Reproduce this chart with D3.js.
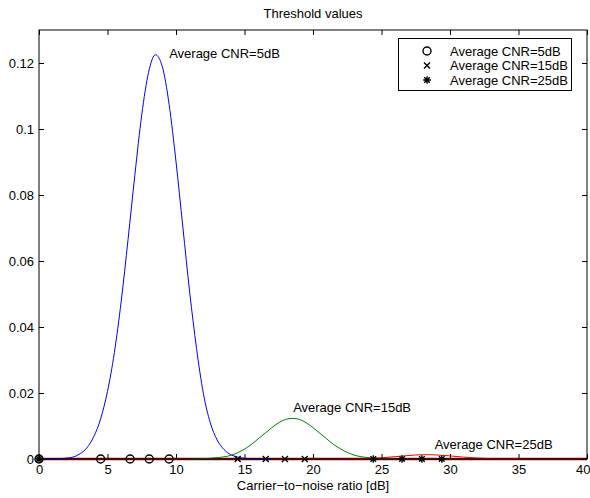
<!DOCTYPE html>
<html>
<head>
<meta charset="utf-8">
<script src="https://cdn.jsdelivr.net/npm/d3@7"></script>
<style>
  body { margin: 0; background: #fff; }
  text { font-family: "Liberation Sans", Arial, sans-serif; }
</style>
</head>
<body>
<div id="chart"></div>
<script>
// curve samples (x in dB, y density)
const blueX = [0, 1, 2, 2.5, 3, 3.5, 4, 4.5, 5, 5.5, 6, 6.5, 7, 7.5, 8, 8.5, 9, 9.5, 10, 10.5, 11, 11.5, 12, 12.5, 13, 13.5, 14, 14.5, 15, 16, 17];
const blueY = [0, 0.00003, 0.00025, 0.0006, 0.0016, 0.0034, 0.0068, 0.0122, 0.0205, 0.0322, 0.0478, 0.0665, 0.0862, 0.1043, 0.1172, 0.1225, 0.1189, 0.1074, 0.0901, 0.0703, 0.0505, 0.0335, 0.0198, 0.0110, 0.0058, 0.0029, 0.0013, 0.0006, 0.0002, 0.00003, 0];

const greenX = [11, 12, 13, 14, 14.5, 15, 15.5, 16, 16.5, 17, 17.5, 18, 18.5, 19, 19.5, 20, 20.5, 21, 21.5, 22, 22.5, 23, 24, 25, 26];
const greenY = [0, 0.0001, 0.0004, 0.0011, 0.0019, 0.0030, 0.0044, 0.0061, 0.0078, 0.0095, 0.0110, 0.0120, 0.0123, 0.0120, 0.0110, 0.0095, 0.0078, 0.0061, 0.0044, 0.0031, 0.0020, 0.0012, 0.0004, 0.0001, 0];

const redX = [22, 24, 25, 26, 27, 28, 28.5, 29, 30, 31, 32, 33, 34, 35];
const redY = [0, 0.00016, 0.00038, 0.00071, 0.00107, 0.00129, 0.0013, 0.00123, 0.00094, 0.00057, 0.00028, 0.00011, 0.00003, 0];

// threshold markers on the zero line
const circleX = [0, 4.5, 6.65, 8.05, 9.5];
const crossX = [0, 14.5, 16.55, 17.95, 19.4];
const starX = [0, 24.4, 26.5, 27.95, 29.4];

const legendLabels = ["Average CNR=5dB", "Average CNR=15dB", "Average CNR=25dB"];
const noteX = [9.5, 18.55, 28.88];
const noteY = [0.123, 0.0158, 0.0046];

const xTicks = [0, 5, 10, 15, 20, 25, 30, 35, 40];
const yTicks = [0, 0.02, 0.04, 0.06, 0.08, 0.1, 0.12];

const W = 590, H = 498;
const margin = { top: 30, right: 3, bottom: 39, left: 39 };

const svg = d3.select("#chart").append("svg")
    .attr("width", W)
    .attr("height", H);

const x = d3.scaleLinear().domain([0, 40]).range([margin.left, W - margin.right]);
const y = d3.scaleLinear().domain([0, 0.13]).range([H - margin.bottom, margin.top]);

svg.append("rect")
    .attr("x", x(0)).attr("y", y(0.13))
    .attr("width", x(40) - x(0)).attr("height", y(0) - y(0.13))
    .attr("fill", "#fff");

// zero line (all curves overlap here)
svg.append("path")
    .datum([[0, 0], [40, 0]])
    .attr("fill", "none")
    .attr("stroke", "#9a0a0a")
    .attr("stroke-width", 2.5)
    .attr("d", d3.line().x(d => x(d[0])).y(d => y(d[1])));

const line = d3.line()
    .x(d => x(d[0]))
    .y(d => y(d[1]))
    .curve(d3.curveMonotoneX);

[[blueX, blueY, "#0000ff"], [greenX, greenY, "#008000"], [redX, redY, "#ff0000"]].forEach(s => {
    svg.append("path")
        .datum(d3.zip(s[0], s[1]))
        .attr("fill", "none")
        .attr("stroke", s[2])
        .attr("stroke-width", 1)
        .attr("d", line);
});

// axes, ticks inward on all four sides
function styleAxis(g) {
    g.select(".domain").remove();
    g.selectAll("line").attr("stroke", "#000");
    g.selectAll("text").attr("font-size", 13).attr("fill", "#000");
}

const xAxis = svg.append("g")
    .attr("transform", `translate(0,${y(0)})`)
    .call(d3.axisBottom(x).tickValues(xTicks).tickSizeInner(-5).tickSizeOuter(0).tickPadding(6))
    .call(styleAxis);
// last label kept inside the page, as in the reference
xAxis.selectAll(".tick text").filter(d => d === 40)
    .attr("text-anchor", "end").attr("x", 3);

svg.append("g")
    .attr("transform", `translate(0,${y(0.13)})`)
    .call(d3.axisTop(x).tickValues(xTicks).tickSizeInner(-5).tickSizeOuter(0).tickFormat(""))
    .call(styleAxis);

svg.append("g")
    .attr("transform", `translate(${x(0)},0)`)
    .call(d3.axisLeft(y).tickValues(yTicks).tickSizeInner(-5).tickSizeOuter(0).tickPadding(5).tickFormat(d3.format("~g")))
    .call(styleAxis);

svg.append("g")
    .attr("transform", `translate(${x(40)},0)`)
    .call(d3.axisRight(y).tickValues(yTicks).tickSizeInner(-5).tickSizeOuter(0).tickFormat(""))
    .call(styleAxis);

svg.append("rect")
    .attr("x", x(0)).attr("y", y(0.13))
    .attr("width", x(40) - x(0)).attr("height", y(0) - y(0.13))
    .attr("fill", "none")
    .attr("stroke", "#000")
    .attr("stroke-width", 1);

// marker shapes
function drawCircle(g, cx, cy) {
    g.append("circle").attr("cx", cx).attr("cy", cy).attr("r", 4)
        .attr("fill", "none").attr("stroke", "#000").attr("stroke-width", 1.4);
}
function drawCross(g, cx, cy) {
    const s = 3;
    g.append("path")
        .attr("d", `M${cx - s},${cy - s}L${cx + s},${cy + s}M${cx - s},${cy + s}L${cx + s},${cy - s}`)
        .attr("stroke", "#000").attr("stroke-width", 1.4);
}
function drawStar(g, cx, cy) {
    const s = 3.8, d = 2.8;
    g.append("path")
        .attr("d", `M${cx - s},${cy}L${cx + s},${cy}M${cx},${cy - s}L${cx},${cy + s}` +
                   `M${cx - d},${cy - d}L${cx + d},${cy + d}M${cx - d},${cy + d}L${cx + d},${cy - d}`)
        .attr("stroke", "#000").attr("stroke-width", 1.4);
}

const markers = svg.append("g");
circleX.forEach(v => drawCircle(markers, x(v), y(0)));
crossX.forEach(v => drawCross(markers, x(v), y(0)));
starX.forEach(v => drawStar(markers, x(v), y(0)));

// annotations
legendLabels.forEach((t, i) => {
    svg.append("text")
        .attr("x", x(noteX[i]))
        .attr("y", y(noteY[i]))
        .attr("dy", "0.36em")
        .attr("font-size", 13)
        .text(t);
});

// legend
const lg = svg.append("g");
lg.append("rect")
    .attr("x", 398.5).attr("y", 38.5)
    .attr("width", 173).attr("height", 52)
    .attr("fill", "#fff").attr("stroke", "#000").attr("stroke-width", 1);
const drawers = [drawCircle, drawCross, drawStar];
legendLabels.forEach((t, i) => {
    const cy = 51 + i * 14.5;
    drawers[i](lg, 427, cy);
    lg.append("text")
        .attr("x", 450)
        .attr("y", cy)
        .attr("dy", "0.36em")
        .attr("font-size", 13)
        .text(t);
});

// titles
svg.append("text")
    .attr("x", (x(0) + x(40)) / 2)
    .attr("y", 18)
    .attr("text-anchor", "middle")
    .attr("font-size", 13)
    .text("Threshold values");

svg.append("text")
    .attr("x", (x(0) + x(40)) / 2)
    .attr("y", 490)
    .attr("text-anchor", "middle")
    .attr("font-size", 13)
    .text("Carrier\u2212to\u2212noise ratio [dB]");
</script>
</body>
</html>
